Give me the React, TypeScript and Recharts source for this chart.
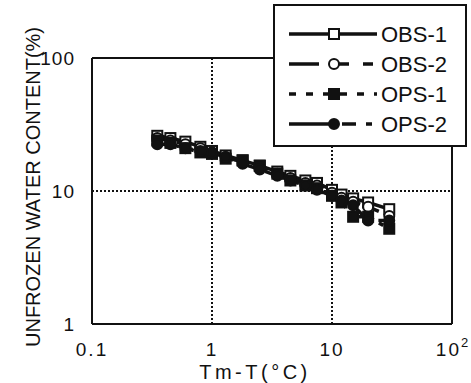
import React from 'react';
import {
  LineChart,
  Line,
  XAxis,
  YAxis,
  ReferenceLine,
  Legend,
  Label,
} from 'recharts';

const FONT = '"Liberation Sans", Arial, Helvetica, sans-serif';

// Tm-T (°C)
const TEMPS = [0.35, 0.45, 0.6, 0.8, 1, 1.3, 1.8, 2.5, 3.5, 4.5, 6, 7.5, 10, 12, 15, 20, 30];

// unfrozen water content (%)
const OBS_1 = [26, 25, 23.5, 21.5, 20, 18.5, 17, 15.5, 14, 13, 12, 11.5, 10.2, 9.4, 8.8, 8.2, 7.3];
const OBS_2 = [25, 24, 22.5, 21, 19.5, 18, 16.5, 15, 13.5, 12.5, 11.5, 11, 9.7, 8.9, 8.3, 7.6, 6.5];
const OPS_1 = [24, 23, 21, 19.5, 19, 17.5, 17, 15.5, 13.5, 12, 11, 10.5, 9.2, 8.2, 6.4, 6.4, 5.2];
const OPS_2 = [22.5, 22.5, 21, 20, 19.5, 18, 16, 14.5, 13, 12, 11, 10.2, 9.2, 8.5, 7.8, 6.0, 6.0];

const X_TICKS = [0.1, 1, 10, 100];
const Y_TICKS = [1, 10, 100];

type Marker = 'openSquare' | 'openCircle' | 'square' | 'circle';

// drawing order: open markers first, filled ones on top
const SERIES: { key: string; name: string; marker: Marker; dash?: string; legendDash?: string }[] = [
  { key: 'obs1', name: 'OBS-1', marker: 'openSquare' },
  { key: 'obs2', name: 'OBS-2', marker: 'openCircle', dash: '14 6', legendDash: '30 10 20 14 10' },
  { key: 'ops1', name: 'OPS-1', marker: 'square', dash: '5 6', legendDash: '7 10' },
  { key: 'ops2', name: 'OPS-2', marker: 'circle', dash: '22 6 8 6', legendDash: '45 8 14 10 6' },
];

const data = TEMPS.map((t, i) => ({
  t,
  obs1: OBS_1[i],
  obs2: OBS_2[i],
  ops1: OPS_1[i],
  ops2: OPS_2[i],
}));

function drawMarker(m: Marker, cx: number, cy: number, key?: string | number) {
  if (m === 'openSquare' || m === 'square') {
    return (
      <rect
        key={key}
        x={cx - 5}
        y={cy - 5}
        width={10}
        height={10}
        fill={m === 'square' ? '#111' : '#fff'}
        stroke="#111"
        strokeWidth={2}
      />
    );
  }
  return (
    <circle
      key={key}
      cx={cx}
      cy={cy}
      r={5}
      fill={m === 'circle' ? '#111' : '#fff'}
      stroke="#111"
      strokeWidth={2}
    />
  );
}

const makeDot = (m: Marker) => (props: any) => {
  const { cx, cy, index } = props;
  if (cx == null || cy == null) return <g key={index} />;
  return drawMarker(m, cx, cy, index);
};

function XTick({ x, y, payload }: any) {
  const v = payload.value;
  return (
    <text x={x} y={y + 32} textAnchor="middle" fontFamily={FONT} fontSize={19} fill="#111" letterSpacing={2}>
      {v === 100 ? (
        <>
          <tspan>10</tspan>
          <tspan dy={-9} fontSize={13} letterSpacing={0}>2</tspan>
        </>
      ) : (
        String(v)
      )}
    </text>
  );
}

function YTick({ x, y, payload }: any) {
  return (
    <text x={x} y={y} dy={7} textAnchor="end" fontFamily={FONT} fontSize={19} fill="#111" letterSpacing={1}>
      {String(payload.value)}
    </text>
  );
}

function LegendBox() {
  return (
    <svg width={194} height={143} style={{ display: 'block' }}>
      <rect x={1} y={1} width={192} height={141} fill="#fff" stroke="#111" strokeWidth={2} />
      {SERIES.map((s, i) => {
        const cy = 30 + i * 30;
        return (
          <g key={s.name}>
            <line x1={16} x2={104} y1={cy} y2={cy} stroke="#111" strokeWidth={3.5} strokeDasharray={s.legendDash} />
            {drawMarker(s.marker, 61, cy)}
            <text x={108} y={cy} dy={8} fontFamily={FONT} fontSize={22} fill="#111">
              {s.name}
            </text>
          </g>
        );
      })}
    </svg>
  );
}

export default function App() {
  return (
    <div style={{ position: 'fixed', left: 0, top: 0, width: 471, height: 383, background: '#fff' }}>
      <LineChart width={471} height={383} data={data} margin={{ top: 58, right: 19, bottom: 0, left: 0 }}>
        <XAxis
          dataKey="t"
          type="number"
          scale="log"
          domain={[0.1, 100]}
          ticks={X_TICKS}
          allowDataOverflow
          height={59}
          tickLine={false}
          tickSize={0}
          tickMargin={0}
          axisLine={{ stroke: '#111', strokeWidth: 2 }}
          tick={<XTick />}
          interval={0}
        >
          <Label
            content={() => (
              <text x={255} y={379} textAnchor="middle" fontFamily={FONT} fontSize={20} fill="#111" letterSpacing={3.5}>
                Tm-T(°C)
              </text>
            )}
          />
        </XAxis>
        <YAxis
          type="number"
          scale="log"
          domain={[1, 100]}
          ticks={Y_TICKS}
          allowDataOverflow
          width={92}
          tickLine={false}
          tickSize={0}
          tickMargin={17}
          axisLine={{ stroke: '#111', strokeWidth: 2 }}
          tick={<YTick />}
          interval={0}
        >
          <Label
            content={() => (
              <text
                transform="translate(33,187) rotate(-90)"
                textAnchor="middle"
                dominantBaseline="central"
                fontFamily={FONT}
                fontSize={20}
                fill="#111"
              >
                UNFROZEN WATER CONTENT(%)
              </text>
            )}
          />
        </YAxis>
        <ReferenceLine x={1} stroke="#111" strokeWidth={2} strokeDasharray="2 2" />
        <ReferenceLine x={10} stroke="#111" strokeWidth={2} strokeDasharray="2 2" />
        <ReferenceLine y={10} stroke="#111" strokeWidth={2} strokeDasharray="2 2" />
        <ReferenceLine y={100} stroke="#111" strokeWidth={2} />
        <ReferenceLine x={100} stroke="#111" strokeWidth={2} />
        {SERIES.map((s) => (
          <Line
            key={s.key}
            dataKey={s.key}
            name={s.name}
            type="linear"
            stroke="#111"
            strokeWidth={3.5}
            strokeDasharray={s.dash}
            dot={makeDot(s.marker)}
            activeDot={false}
            isAnimationActive={false}
          />
        ))}
        <Legend
          layout="vertical"
          align="center"
          verticalAlign="middle"
          content={() => <LegendBox />}
          wrapperStyle={{ top: 4, left: 273, width: 194, height: 143 }}
        />
      </LineChart>
    </div>
  );
}
